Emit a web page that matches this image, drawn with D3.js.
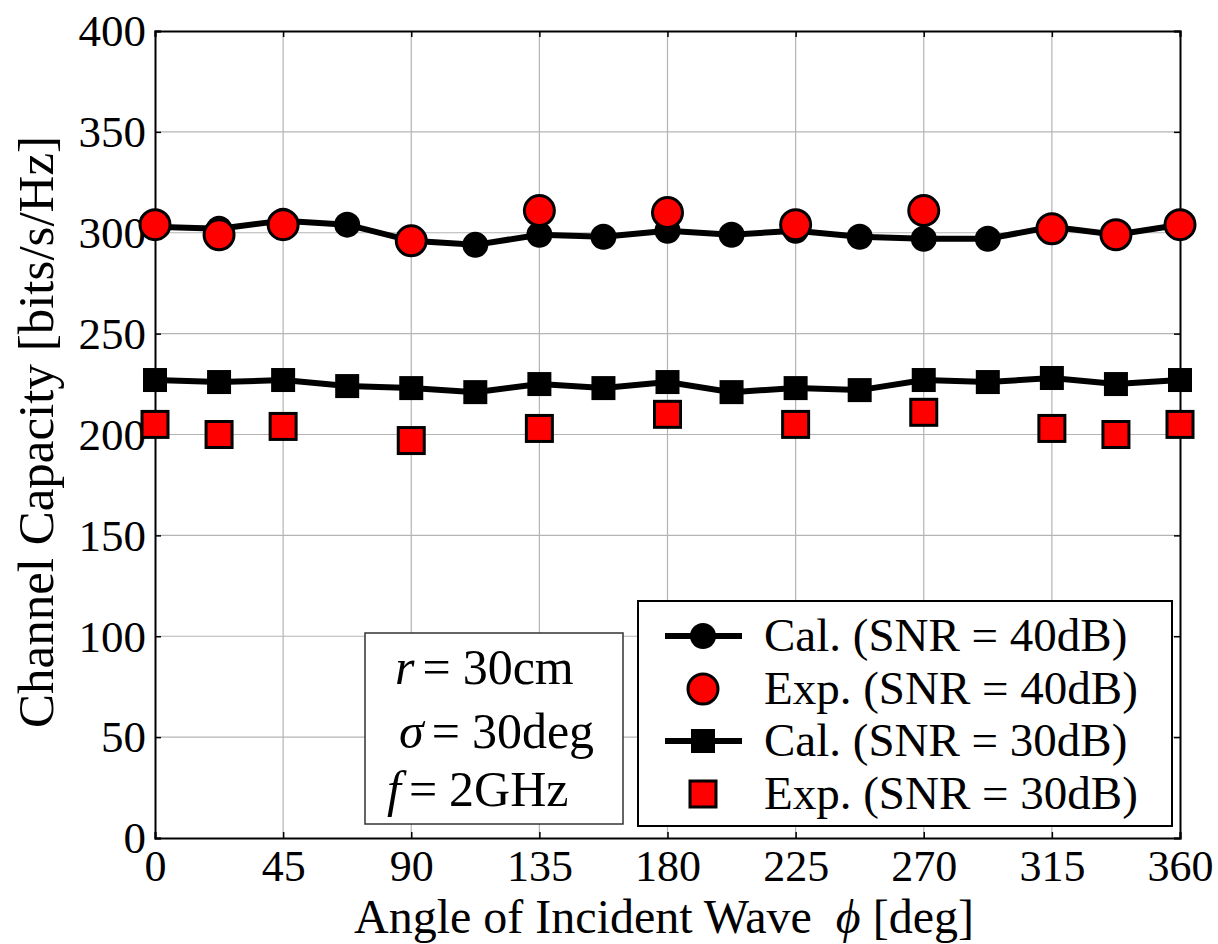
<!DOCTYPE html>
<html>
<head>
<meta charset="utf-8">
<script src="https://cdn.jsdelivr.net/npm/d3@7"></script>
<style>
  body { margin: 0; background: #fff; }
  text { font-family: "Liberation Serif", "Times New Roman", serif; }
</style>
</head>
<body>
<div id="chart"></div>
<script>
// Data
const angles = [0, 22.5, 45, 67.5, 90, 112.5, 135, 157.5, 180, 202.5, 225, 247.5, 270, 292.5, 315, 337.5, 360];
const cal40 = [303, 302, 306, 304, 296, 294, 299, 298, 301, 299, 301, 298, 297, 297, 303, 299, 304];
const expAngles = [0, 22.5, 45, 90, 135, 180, 225, 270, 315, 337.5, 360];
const exp40 = [304, 299, 304, 296, 311, 310, 304, 311, 302, 299, 304];
const cal30 = [227, 226, 227, 224, 223, 221, 225, 223, 226, 221, 223, 222, 227, 226, 228, 225, 227];
const exp30 = [205, 200, 204, 197, 203, 210, 205, 211, 203, 200, 205];
const xTicks = [0, 45, 90, 135, 180, 225, 270, 315, 360];
const yTicks = [0, 50, 100, 150, 200, 250, 300, 350, 400];
const legendLabels = ["Cal. (SNR = 40dB)", "Exp. (SNR = 40dB)", "Cal. (SNR = 30dB)", "Exp. (SNR = 30dB)"];

const W = 1218, H = 944;
const margin = { top: 31, right: 38, bottom: 106, left: 155 };
const width = W - margin.left - margin.right;
const height = H - margin.top - margin.bottom;

const svg = d3.select("#chart").append("svg")
  .attr("width", W).attr("height", H);
const g = svg.append("g").attr("transform", `translate(${margin.left},${margin.top})`);

const x = d3.scaleLinear().domain([0, 360]).range([0, width]);
const y = d3.scaleLinear().domain([0, 400]).range([height, 0]);

// grid
g.append("g").selectAll("line").data(xTicks.slice(1, -1)).join("line")
  .attr("x1", d => x(d)).attr("x2", d => x(d)).attr("y1", 0).attr("y2", height)
  .attr("stroke", "#b4b4b4").attr("stroke-width", 1.2);
g.append("g").selectAll("line").data(yTicks.slice(1, -1)).join("line")
  .attr("y1", d => y(d)).attr("y2", d => y(d)).attr("x1", 0).attr("x2", width)
  .attr("stroke", "#b4b4b4").attr("stroke-width", 1.2);

// axes with inner ticks on all sides
const bottomAx = g.append("g").attr("transform", `translate(0,${height})`)
  .call(d3.axisBottom(x).tickValues(xTicks).tickSize(-6).tickPadding(12));
const topAx = g.append("g").call(d3.axisTop(x).tickValues(xTicks).tickSize(-6).tickFormat(""));
const leftAx = g.append("g").call(d3.axisLeft(y).tickValues(yTicks).tickSize(-6).tickPadding(9));
const rightAx = g.append("g").attr("transform", `translate(${width},0)`)
  .call(d3.axisRight(y).tickValues(yTicks).tickSize(-6).tickFormat(""));
[bottomAx, topAx, leftAx, rightAx].forEach(a => {
  a.select(".domain").attr("stroke", "#000").attr("stroke-width", 2);
  a.selectAll(".tick line").attr("stroke", "#000").attr("stroke-width", 1.5);
  a.selectAll("text").attr("font-family", "Liberation Serif").attr("fill", "#000");
});
bottomAx.selectAll("text").attr("font-size", 44);
leftAx.selectAll("text").attr("font-size", 45).attr("dy", "0.33em");

// axis labels
svg.append("text").attr("x", 664).attr("y", 933)
  .attr("text-anchor", "middle").attr("font-size", 48)
  .html('Angle of Incident Wave&#160; <tspan font-style="italic">ϕ</tspan> [deg]');
svg.append("text").attr("transform", `translate(53,432) rotate(-90)`)
  .attr("text-anchor", "middle").attr("font-size", 51)
  .text("Channel Capacity [bits/s/Hz]");

const line = d3.line().x(d => x(d[0])).y(d => y(d[1]));
const calData40 = angles.map((a, i) => [a, cal40[i]]);
const calData30 = angles.map((a, i) => [a, cal30[i]]);
const expData40 = expAngles.map((a, i) => [a, exp40[i]]);
const expData30 = expAngles.map((a, i) => [a, exp30[i]]);

const plot = g.append("g");
// Cal 40
plot.append("path").datum(calData40).attr("d", line)
  .attr("fill", "none").attr("stroke", "#000").attr("stroke-width", 6);
plot.append("g").selectAll("circle").data(calData40).join("circle")
  .attr("cx", d => x(d[0])).attr("cy", d => y(d[1])).attr("r", 13).attr("fill", "#000");
// Cal 30
plot.append("path").datum(calData30).attr("d", line)
  .attr("fill", "none").attr("stroke", "#000").attr("stroke-width", 6);
plot.append("g").selectAll("rect").data(calData30).join("rect")
  .attr("x", d => x(d[0]) - 12).attr("y", d => y(d[1]) - 12)
  .attr("width", 24).attr("height", 24).attr("fill", "#000");
// Exp 40
plot.append("g").selectAll("circle").data(expData40).join("circle")
  .attr("cx", d => x(d[0])).attr("cy", d => y(d[1])).attr("r", 15)
  .attr("fill", "#ff0000").attr("stroke", "#000").attr("stroke-width", 3);
// Exp 30
plot.append("g").selectAll("rect").data(expData30).join("rect")
  .attr("x", d => x(d[0]) - 13).attr("y", d => y(d[1]) - 13)
  .attr("width", 26).attr("height", 26)
  .attr("fill", "#ff0000").attr("stroke", "#000").attr("stroke-width", 3);

// parameter box
const pb = svg.append("g");
pb.append("rect").attr("x", 365).attr("y", 633).attr("width", 258).attr("height", 191)
  .attr("fill", "#fff").attr("stroke", "#333").attr("stroke-width", 1.5);
const params = [
  { sym: "r", val: "30cm", x: 395, y: 684 },
  { sym: "σ", val: "30deg", x: 399, y: 748 },
  { sym: "f", val: "2GHz", x: 387, y: 806 }
];
params.forEach(p => {
  pb.append("text").attr("x", p.x).attr("y", p.y).attr("font-size", 50)
    .html(`<tspan font-style="italic">${p.sym}</tspan><tspan dx="8">=</tspan><tspan dx="12">${p.val}</tspan>`);
});

// legend
const lg = svg.append("g");
lg.append("rect").attr("x", 638).attr("y", 601).attr("width", 534).attr("height", 225)
  .attr("fill", "#fff").attr("stroke", "#000").attr("stroke-width", 2);
const rowY = [636, 689, 741, 794];
legendLabels.forEach((lab, i) => {
  const cy = rowY[i];
  if (i === 0 || i === 2) {
    lg.append("line").attr("x1", 665).attr("x2", 742).attr("y1", cy).attr("y2", cy)
      .attr("stroke", "#000").attr("stroke-width", 6);
  }
  if (i === 0) lg.append("circle").attr("cx", 703).attr("cy", cy).attr("r", 13).attr("fill", "#000");
  if (i === 1) lg.append("circle").attr("cx", 703).attr("cy", cy).attr("r", 15)
    .attr("fill", "#ff0000").attr("stroke", "#000").attr("stroke-width", 3);
  if (i === 2) lg.append("rect").attr("x", 691).attr("y", cy - 12).attr("width", 24).attr("height", 24).attr("fill", "#000");
  if (i === 3) lg.append("rect").attr("x", 690).attr("y", cy - 13).attr("width", 26).attr("height", 26)
    .attr("fill", "#ff0000").attr("stroke", "#000").attr("stroke-width", 3);
  lg.append("text").attr("x", 764).attr("y", cy + 15).attr("font-size", 47).text(lab);
});
</script>
</body>
</html>
